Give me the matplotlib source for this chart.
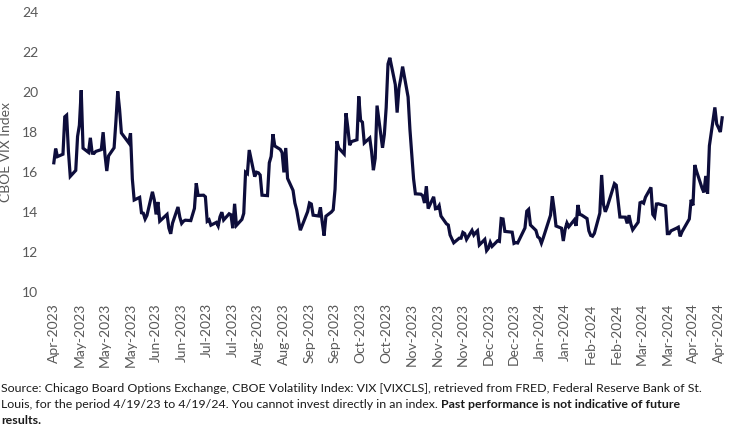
import matplotlib
matplotlib.use("Agg")
import matplotlib.pyplot as plt
import matplotlib.dates as mdates
import pandas as pd

# CBOE VIX daily closes, 4/19/23 - 4/19/24
start = "2023-04-19"
finish = "2024-04-19"
market_holidays = ["2023-05-29", "2023-06-19", "2023-07-04", "2023-09-04",
                   "2023-11-23", "2023-12-25", "2024-01-01", "2024-01-15",
                   "2024-02-19", "2024-03-29"]

apr23 = [16.46, 17.17, 16.77, 16.89, 18.76, 18.84, 17.03, 15.78]
may23 = [16.08, 17.78, 18.34, 20.09, 17.19, 16.98, 17.71, 16.94, 16.93, 17.03,
         17.12, 17.99, 16.87, 16.05, 16.81, 17.21, 18.53, 20.03, 19.14, 17.95,
         17.46, 17.94]
jun23 = [15.65, 14.60, 14.73, 13.96, 13.94, 13.65, 13.83, 15.01, 14.61, 13.88,
         14.50, 13.54, 13.88, 13.20, 12.91, 13.44, 14.25, 13.74, 13.43, 13.54,
         13.59]
jul23 = [13.57, 14.18, 15.44, 14.83, 14.84, 14.76, 13.54, 13.61, 13.34, 13.48,
         13.30, 13.76, 13.99, 13.60, 13.91, 13.86, 13.19, 14.41, 13.33, 13.63]
aug23 = [13.93, 15.99, 15.92, 17.10, 15.77, 15.99, 15.96, 15.85, 14.84, 14.82,
         16.46, 16.78, 17.89, 17.30, 17.13, 16.97, 15.98, 17.20, 15.68, 15.08,
         14.45, 14.10, 13.57]
sep23 = [13.09, 14.02, 14.45, 14.40, 13.84, 13.80, 14.23, 13.48, 12.82, 13.79,
         14.00, 14.11, 15.14, 17.54, 17.20, 16.90, 18.94, 18.22, 17.34, 17.52]
oct23 = [17.61, 19.78, 18.58, 18.49, 17.45, 17.70, 17.03, 16.09, 16.69, 19.32,
         17.21, 17.88, 19.22, 21.40, 21.71, 20.37, 18.97, 20.19, 20.68, 21.27,
         19.75, 18.14]
nov23 = [16.87, 15.66, 14.91, 14.89, 14.81, 14.45, 15.29, 14.17, 14.76, 14.16,
         14.18, 14.32, 13.80, 13.41, 13.35, 12.85, 12.46, 12.69, 12.69, 12.98,
         12.92]
dec23 = [12.63, 13.08, 12.85, 12.97, 13.06, 12.35, 12.63, 12.07, 12.19, 12.48,
         12.28, 12.56, 12.53, 13.67, 13.65, 13.03, 12.99, 12.43, 12.47, 12.45]
jan24 = [13.20, 14.04, 14.13, 13.35, 13.08, 12.76, 12.69, 12.44, 12.70, 13.84,
         14.79, 14.13, 13.30, 13.19, 12.55, 13.14, 13.45, 13.26, 13.60, 13.31,
         14.35]
feb24 = [13.88, 13.85, 13.67, 13.06, 12.83, 12.79, 12.93, 13.94, 15.85, 14.38,
         14.01, 14.24, 15.42, 15.34, 14.54, 13.75, 13.74, 13.43, 13.84, 13.40]
mar24 = [13.11, 13.49, 14.46, 14.50, 14.44, 14.74, 15.23, 13.88, 13.75, 14.40,
         14.41, 14.33, 14.30, 12.92, 12.92, 13.06, 13.19, 13.24, 12.78, 13.01]
apr24 = [13.65, 14.61, 14.33, 16.35, 16.03, 15.19, 14.98, 15.80, 14.91, 17.31,
         19.23, 18.40, 18.21, 18.00, 18.71]

vix = apr23 + may23 + jun23 + jul23 + aug23 + sep23 + oct23 + nov23 + dec23 \
    + jan24 + feb24 + mar24 + apr24
days = pd.bdate_range(start, finish)
days = days[~days.isin(pd.to_datetime(market_holidays))]

note1 = ("Source: Chicago Board Options Exchange, CBOE Volatility Index: VIX [VIXCLS], "
         "retrieved from FRED, Federal Reserve Bank of St.")
note2 = "Louis, for the period 4/19/23 to 4/19/24. You cannot invest directly in an index. "
note2b = "Past performance is not indicative of future"
note3 = "results."

W, H = 736, 434
fig = plt.figure(figsize=(W / 100, H / 100), dpi=100)
ax = fig.add_axes([52 / W, (H - 292) / H, (724 - 52) / W, (292 - 12) / H])

ax.plot(days, vix, color="#0d0d3b", lw=2.3, solid_joinstyle="miter")

ax.set_ylim(10, 24)
ax.set_yticks(range(10, 25, 2))
ax.set_xlim(pd.Timestamp(start) - pd.Timedelta(days=1),
            pd.Timestamp(finish) + pd.Timedelta(days=1))
ticks = pd.date_range(start, finish, freq="14D")
ax.set_xticks(ticks)
ax.xaxis.set_major_formatter(mdates.DateFormatter("%b-%Y"))

for s in ax.spines.values():
    s.set_visible(False)
gray = "#595959"
ax.tick_params(axis="both", length=0, colors=gray, labelsize=10)
ax.tick_params(axis="y", pad=10)
ax.tick_params(axis="x", pad=8)
for lab in ax.get_xticklabels():
    lab.set_rotation(90)
    lab.set_fontfamily("Lato")
for lab in ax.get_yticklabels():
    lab.set_fontfamily("Lato")
ax.set_ylabel("CBOE VIX Index", color=gray, fontsize=10, family="Lato")
ax.yaxis.set_label_coords((12 - 52) / 672, 0.5)

note_kw = dict(family="Lato", color="#1a1a1a")
t1 = fig.text(0.002, 1 - 389 / H, note1, va="center", fontsize=10, **note_kw)
# shrink footnote font so the first line ends where the reference's does (~705 px)
fig.canvas.draw()
w1 = t1.get_window_extent().width
fs = 10 * (705 - 2) / w1
t1.set_fontsize(fs)
t2 = fig.text(0.002, 1 - 405 / H, note2, va="center", fontsize=fs, **note_kw)
ax.annotate(note2b, xy=(1, 0), xycoords=t2, va="bottom", ha="left",
            fontweight="bold", fontsize=fs, **note_kw)
fig.text(0.002, 1 - 420 / H, note3, va="center", fontweight="bold", fontsize=fs, **note_kw)

fig.savefig("out.png", dpi=100)
